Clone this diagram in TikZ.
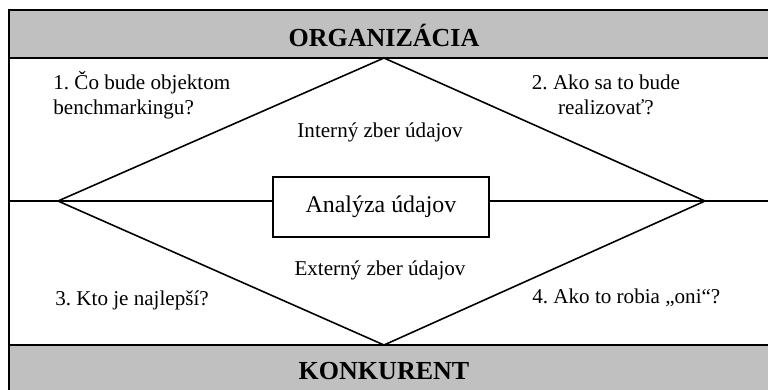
\documentclass[tikz,border=0pt]{standalone}
\usepackage{fontspec}
\setmainfont{Liberation Serif}
\usetikzlibrary{positioning,calc}
\definecolor{bandgray}{RGB}{192,192,192}
\frenchspacing
\tikzset{
  band/.style={draw=black, fill=bandgray, line width=1pt},
  ln/.style={black, line width=0.9pt},
  ttl/.style={font=\fontsize{14.8}{17}\selectfont\bfseries},
  blk/.style={draw=black, line width=0.9pt, fill=white,
              minimum width=4.32cm, minimum height=1.2cm,
              font=\fontsize{13.6}{16}\selectfont},
  qtxt/.style={font=\fontsize{12}{14.2}\selectfont, inner sep=0pt},
}

\begin{document}
\begin{tikzpicture}
    \def\W{15.36} \def\H{7.78}
    \clip (0,0) rectangle (\W,\H);
    % bands and frame
    \draw[band] (0.18,6.62) rectangle (\W+0.5,7.58);
    \draw[band] (0.18,-0.5) rectangle (\W+0.5,0.88);
    \draw[ln] (0.18,0.88) -- (0.18,6.62);
    \node[ttl] (org) at (7.68,7.08) {ORGANIZÁCIA};
    \node[ttl] (konk) at (7.68,0.36) {KONKURENT};
    % diamond
    \coordinate (dt) at (7.68,6.62);
    \coordinate (db) at (7.68,0.88);
    \coordinate (dl) at (1.16,3.76);
    \coordinate (dr) at (14.10,3.76);
    \coordinate (el) at (0.18,3.76);
    \coordinate (er) at (\W+0.5,3.76);
    \draw[ln] (dt) -- (dr) -- (db) -- (dl) -- cycle;
    \node[blk] (ana) at (7.62,3.64) {Analýza údajov};
    \draw[ln] (el) -- (el -| ana.west);
    \draw[ln] (ana.east |- er) -- (er);
    % questions
    \node[qtxt, align=left, anchor=west] (q1) at (1.06,5.88) {1. Čo bude objektom\\benchmarkingu?};
    \node[qtxt, align=center] (q2) at (12.12,5.88) {2. Ako sa to bude\\realizovať?};
    \node[qtxt] (int) at (7.60,5.14) {Interný zber údajov};
    \node[qtxt] (ext) at (7.60,2.38) {Externý zber údajov};
    \node[qtxt, anchor=west] (q3) at (1.10,1.78) {3. Kto je najlepší?};
    \node[qtxt, anchor=west] (q4) at (10.64,1.82) {4. Ako to robia „oni“?};
\end{tikzpicture}
\end{document}
